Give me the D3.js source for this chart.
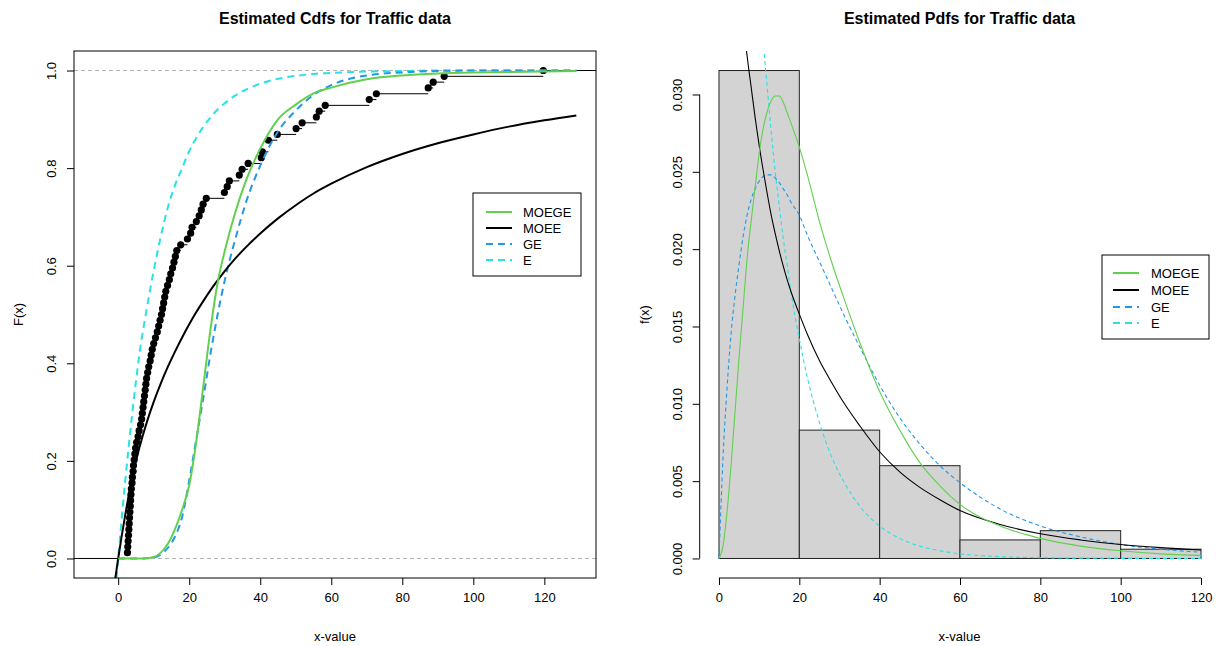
<!DOCTYPE html>
<html>
<head>
<meta charset="utf-8">
<script src="https://cdn.jsdelivr.net/npm/d3@7"></script>
<style>
  body { margin: 0; background: #fff; }
  text { font-family: "Liberation Sans", Arial, sans-serif; fill: #000; }
</style>
</head>
<body>
<div id="chart"></div>
<script>
// Traffic sample (sorted)
var traffic = [2.6, 2.7, 2.8, 2.9, 3.0, 3.1, 3.2, 3.3, 3.4, 3.5, 3.6, 3.7, 3.9, 4.0, 4.2, 4.3,
  4.5, 4.7, 4.9, 5.2, 5.6, 5.9, 6.3, 6.6, 6.8, 7.0, 7.2, 7.4, 7.6, 7.8, 8.0, 8.3, 8.6, 9.0,
  9.3, 9.6, 10.0, 10.5, 11.0, 11.4, 11.8, 12.2, 12.5, 12.8, 13.1, 13.4, 13.9, 14.4, 14.8,
  15.3, 15.7, 16.1, 16.5, 17.6, 19.5, 20.4, 20.8, 22.0, 22.8, 23.4, 23.9, 24.8, 29.9, 30.7,
  31.3, 34.1, 34.9, 36.6, 40.3, 40.6, 42.3, 42.3, 44.8, 50.1, 51.8, 55.8, 56.6, 58.3, 70.7,
  72.7, 87.3, 88.7, 91.8, 119.7];

// Histogram (density scale)
var histBreaks = [0, 20, 40, 60, 80, 100, 120];
var histDensity = [0.03155, 0.0083, 0.0060, 0.0012, 0.0018, 0.0006];

// Fitted cdfs
var cdfGrid = [-1, 0, 2, 4, 6, 8, 10, 12, 14, 16, 18, 20, 22, 24, 26, 28, 30, 33, 36, 40, 45, 50, 55, 60, 70, 80, 90, 100, 110, 120, 129];
var cdfMOEGE = [null, 0, 0, 0, 0, 0.0005, 0.003, 0.012, 0.03, 0.06, 0.10, 0.15, 0.24, 0.355, 0.47, 0.565, 0.63, 0.71, 0.775, 0.84, 0.90, 0.93, 0.953, 0.965, 0.982, 0.99, 0.994, 0.996, 0.997, 0.998, 0.999];
var cdfMOEE = [-0.05, 0, 0.09, 0.168, 0.228, 0.278, 0.321, 0.359, 0.393, 0.424, 0.453, 0.48, 0.505, 0.528, 0.55, 0.57, 0.589, 0.615, 0.638, 0.666, 0.697, 0.724, 0.748, 0.768, 0.802, 0.829, 0.851, 0.869, 0.885, 0.898, 0.908];
var cdfGE = [null, 0, 0, 0, 0, 0.0005, 0.002, 0.008, 0.022, 0.045, 0.085, 0.16, 0.245, 0.33, 0.42, 0.50, 0.57, 0.655, 0.73, 0.805, 0.875, 0.918, 0.95, 0.97, 0.99, 0.996, 0.999, 1, 1, 1, 1];
var cdfE = [-0.09, 0, 0.16, 0.30, 0.42, 0.51, 0.59, 0.66, 0.72, 0.765, 0.80, 0.835, 0.862, 0.885, 0.904, 0.92, 0.933, 0.949, 0.961, 0.973, 0.983, 0.989, 0.993, 0.995, 0.998, 0.999, 1, 1, 1, 1, 1];

// Fitted pdfs
var pdfGrid = [0, 1, 2, 3, 4, 5, 6, 7, 8, 9, 10, 11, 12, 13, 14, 15, 16, 17, 18, 20, 22, 25, 28, 31, 35, 40, 45, 50, 55, 60, 70, 80, 90, 100, 110, 120];
var pdfMOEGE = [0, 0.0008, 0.003, 0.006, 0.0095, 0.013, 0.0162, 0.0194, 0.0218, 0.024, 0.0262, 0.0278, 0.0289, 0.0296, 0.0299, 0.0299, 0.0295, 0.0288, 0.0281, 0.0266, 0.0248, 0.0218, 0.0192, 0.0169, 0.014, 0.0108, 0.0083, 0.0062, 0.0047, 0.0035, 0.0021, 0.0013, 0.0008, 0.0005, 0.0003, 0.0002];
var pdfMOEE = [0.063, 0.056, 0.05, 0.045, 0.041, 0.0378, 0.035, 0.0325, 0.0305, 0.0285, 0.0267, 0.0251, 0.0236, 0.0222, 0.021, 0.0199, 0.0189, 0.018, 0.0172, 0.0158, 0.0145, 0.0128, 0.0114, 0.0101, 0.0086, 0.0069, 0.0056, 0.0046, 0.0038, 0.0031, 0.0022, 0.0016, 0.0012, 0.0009, 0.0007, 0.00055];
var pdfGE = [0, 0.0065, 0.011, 0.0145, 0.017, 0.019, 0.0208, 0.0222, 0.0232, 0.0239, 0.0244, 0.0247, 0.0248, 0.0248, 0.0246, 0.0243, 0.0239, 0.0235, 0.023, 0.0222, 0.0209, 0.0192, 0.0175, 0.0158, 0.0137, 0.0112, 0.0091, 0.0074, 0.006, 0.0049, 0.0032, 0.0021, 0.0014, 0.0009, 0.0006, 0.0004];
var pdfE = [0.095, 0.086, 0.079, 0.071, 0.065, 0.059, 0.054, 0.049, 0.0445, 0.0405, 0.037, 0.0334, 0.0305, 0.0276, 0.025, 0.0228, 0.0207, 0.0189, 0.0171, 0.0142, 0.0117, 0.0088, 0.0066, 0.005, 0.0034, 0.0021, 0.0013, 0.0008, 0.0005, 0.0003, 0.00012, 0.00005, 0.00002, 0.00001, 0, 0];

var seriesNames = ["MOEGE", "MOEE", "GE", "E"];
var seriesColors = ["#61D04F", "#000000", "#2297E6", "#28E2E5"];
var seriesDash = [false, false, true, true];

var W = 1216, H = 646;
var svg = d3.select("#chart").append("svg").attr("width", W).attr("height", H);
svg.append("rect").attr("width", W).attr("height", H).attr("fill", "#fff");

// R-style range extension of 4%
function ext(lim) {
  var d = (lim[1] - lim[0]) * 0.04;
  return [lim[0] - d, lim[1] + d];
}

var plotTop = 51, plotBottom = 578;

// pair up a grid and a series
function pairs(grid, vals) {
  return grid.map(function(g, i) { return {x: g, y: vals[i]}; })
    .filter(function(d) { return d.y !== null; });
}

function drawLegend(g, x0, y0, w, h, lx0, lx1, tx, rows, dashArr) {
  g.append("rect").attr("x", x0).attr("y", y0).attr("width", w).attr("height", h)
    .attr("fill", "#fff").attr("stroke", "#000").attr("stroke-width", 1);
  seriesNames.forEach(function(name, i) {
    g.append("line").attr("x1", lx0).attr("x2", lx1).attr("y1", rows[i]).attr("y2", rows[i])
      .attr("stroke", seriesColors[i]).attr("stroke-width", 2)
      .attr("stroke-dasharray", seriesDash[i] ? dashArr : null);
    g.append("text").attr("x", tx).attr("y", rows[i] + 4.5).attr("font-size", 13).text(name);
  });
}

//----- Left panel: cdfs
(function() {
  var x = d3.scaleLinear().domain(ext([-7, 129.1])).range([74, 596]);
  var y = d3.scaleLinear().domain(ext([0, 1])).range([plotBottom, plotTop]);
  var g = svg.append("g");

  g.append("clipPath").attr("id", "clipL").append("rect")
    .attr("x", 74).attr("y", plotTop).attr("width", 522).attr("height", plotBottom - plotTop);

  // reference lines at 0 and 1
  [0, 1].forEach(function(v) {
    g.append("line").attr("x1", 74).attr("x2", 596).attr("y1", y(v)).attr("y2", y(v))
      .attr("stroke", "#b3b3b3").attr("stroke-dasharray", "4,3");
  });

  // empirical cdf
  var n = traffic.length;
  var steps = [];
  var uniq = Array.from(new Set(traffic));
  uniq.forEach(function(v) {
    steps.push({x: v, y: traffic.filter(function(t) { return t <= v; }).length / n});
  });
  var ec = g.append("g").attr("clip-path", "url(#clipL)");
  ec.append("line").attr("x1", 74).attr("x2", x(steps[0].x)).attr("y1", y(0)).attr("y2", y(0))
    .attr("stroke", "#000").attr("stroke-width", 1);
  steps.forEach(function(d, i) {
    var xe = i < steps.length - 1 ? x(steps[i + 1].x) : 596;
    ec.append("line").attr("x1", x(d.x)).attr("x2", xe).attr("y1", y(d.y)).attr("y2", y(d.y))
      .attr("stroke", "#000").attr("stroke-width", 1);
  });
  ec.selectAll(".pt").data(steps).enter().append("circle")
    .attr("cx", function(d) { return x(d.x); })
    .attr("cy", function(d) { return y(d.y); })
    .attr("r", 3.6).attr("fill", "#000");

  // fitted curves
  var line = d3.line().x(function(d) { return x(d.x); }).y(function(d) { return y(d.y); })
    .curve(d3.curveMonotoneX);
  var cdfs = [cdfMOEGE, cdfMOEE, cdfGE, cdfE];
  var cg = g.append("g").attr("clip-path", "url(#clipL)");
  [3, 2, 1, 0].forEach(function(i) {
    cg.append("path").datum(pairs(cdfGrid, cdfs[i])).attr("d", line)
      .attr("fill", "none").attr("stroke", seriesColors[i]).attr("stroke-width", 2)
      .attr("stroke-dasharray", seriesDash[i] ? "7,5" : null);
  });

  // box
  g.append("rect").attr("x", 74).attr("y", plotTop).attr("width", 522).attr("height", plotBottom - plotTop)
    .attr("fill", "none").attr("stroke", "#000").attr("stroke-width", 1);

  // axes
  var ax = g.append("g").attr("transform", "translate(0," + plotBottom + ")")
    .call(d3.axisBottom(x).tickValues([0, 20, 40, 60, 80, 100, 120]).tickSize(7).tickSizeOuter(0).tickPadding(17));
  ax.select(".domain").remove();
  ax.selectAll("text").attr("font-size", 13).attr("dy", 0);
  var ay = g.append("g").attr("transform", "translate(74,0)")
    .call(d3.axisLeft(y).tickValues([0, 0.2, 0.4, 0.6, 0.8, 1]).tickFormat(d3.format(".1f")).tickSize(7).tickSizeOuter(0));
  ay.select(".domain").remove();
  ay.selectAll("text").attr("font-size", 13).attr("transform", "rotate(-90)")
    .attr("x", 0).attr("y", -18).attr("dy", 0).style("text-anchor", "middle");

  g.append("text").attr("x", 335).attr("y", 24).attr("text-anchor", "middle")
    .attr("font-size", 16).attr("font-weight", "bold").text("Estimated Cdfs for Traffic data");
  g.append("text").attr("x", 335).attr("y", 641).attr("text-anchor", "middle")
    .attr("font-size", 13).text("x-value");
  g.append("text").attr("transform", "translate(23," + (plotTop + plotBottom) / 2 + ") rotate(-90)")
    .attr("text-anchor", "middle").attr("font-size", 13).text("F(x)");

  drawLegend(g, 473, 193, 108, 83, 486, 512, 523, [212, 228, 244, 260], "7,5");
})();

//----- Right panel: histogram and pdfs
(function() {
  var x = d3.scaleLinear().domain(ext([0, 120])).range([699.7, 1220.3]);
  var ymax = d3.max(histDensity);
  var y = d3.scaleLinear().domain(ext([0, ymax])).range([plotBottom, plotTop]);
  var g = svg.append("g");

  g.append("clipPath").attr("id", "clipR").append("rect")
    .attr("x", 699.7).attr("y", plotTop).attr("width", W - 699.7).attr("height", plotBottom - plotTop);

  var bins = histDensity.map(function(d, i) { return {x0: histBreaks[i], x1: histBreaks[i + 1], d: d}; });
  g.selectAll(".bar").data(bins).enter().append("rect")
    .attr("x", function(b) { return x(b.x0); })
    .attr("y", function(b) { return y(b.d); })
    .attr("width", function(b) { return x(b.x1) - x(b.x0); })
    .attr("height", function(b) { return y(0) - y(b.d); })
    .attr("fill", "#d3d3d3").attr("stroke", "#222").attr("stroke-width", 1);

  var line = d3.line().x(function(d) { return x(d.x); }).y(function(d) { return y(d.y); })
    .curve(d3.curveMonotoneX);
  var pdfs = [pdfMOEGE, pdfMOEE, pdfGE, pdfE];
  var cg = g.append("g").attr("clip-path", "url(#clipR)");
  [3, 2, 1, 0].forEach(function(i) {
    cg.append("path").datum(pairs(pdfGrid, pdfs[i])).attr("d", line)
      .attr("fill", "none").attr("stroke", seriesColors[i]).attr("stroke-width", 1.1)
      .attr("stroke-dasharray", seriesDash[i] ? "4,3" : null);
  });

  // axes: line only between first and last tick, like R
  var xt = [0, 20, 40, 60, 80, 100, 120];
  var ax = g.append("g").attr("transform", "translate(0," + plotBottom + ")")
    .call(d3.axisBottom(x).tickValues(xt).tickSize(7).tickSizeOuter(0).tickPadding(17));
  ax.select(".domain").remove();
  ax.selectAll("text").attr("font-size", 13).attr("dy", 0);
  g.append("line").attr("x1", x(0)).attr("x2", x(120)).attr("y1", plotBottom).attr("y2", plotBottom).attr("stroke", "#000");

  var yt = [0, 0.005, 0.01, 0.015, 0.02, 0.025, 0.03];
  var ay = g.append("g").attr("transform", "translate(699.7,0)")
    .call(d3.axisLeft(y).tickValues(yt).tickFormat(d3.format(".3f")).tickSize(7).tickSizeOuter(0));
  ay.select(".domain").remove();
  ay.selectAll("text").attr("font-size", 13).attr("transform", "rotate(-90)")
    .attr("x", 0).attr("y", -18).attr("dy", 0).style("text-anchor", "middle");
  g.append("line").attr("x1", 699.7).attr("x2", 699.7).attr("y1", y(0)).attr("y2", y(0.03)).attr("stroke", "#000");

  g.append("text").attr("x", 959.5).attr("y", 24).attr("text-anchor", "middle")
    .attr("font-size", 16).attr("font-weight", "bold").text("Estimated Pdfs for Traffic data");
  g.append("text").attr("x", 959.5).attr("y", 641).attr("text-anchor", "middle")
    .attr("font-size", 13).text("x-value");
  g.append("text").attr("transform", "translate(649," + (plotTop + plotBottom) / 2 + ") rotate(-90)")
    .attr("text-anchor", "middle").attr("font-size", 13).text("f(x)");

  drawLegend(g, 1102, 255, 107, 84, 1113, 1139, 1151, [273, 290, 307, 323], "7,5");
})();
</script>
</body>
</html>
